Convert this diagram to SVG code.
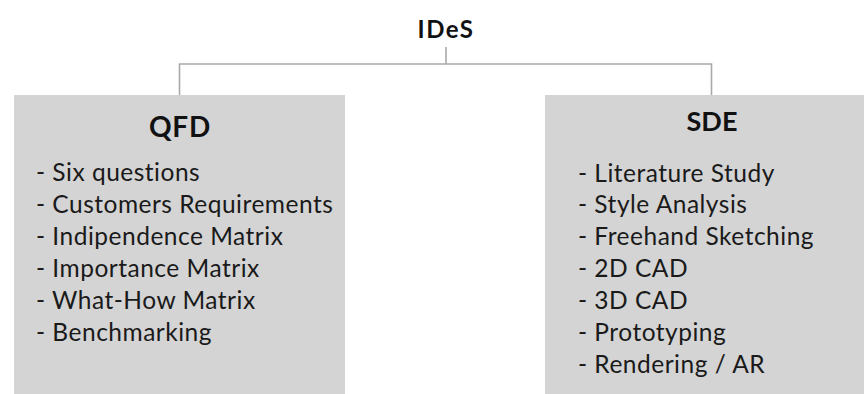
<svg xmlns="http://www.w3.org/2000/svg" width="864" height="394" viewBox="0 0 864 394">
  <style>
    .box { fill: #d4d4d4; }
    .link { fill: none; stroke: #a9a9a9; stroke-width: 1.6; }
    .title { font-family: Lato, "Open Sans", sans-serif; font-weight: bold; fill: #111; text-anchor: middle; }
    .item { font-family: Lato, "Open Sans", sans-serif; font-size: 24.5px; letter-spacing: 0.5px; fill: #1a1a1a; }
  </style>
  <rect width="864" height="394" fill="#ffffff"/>

  <!-- tree connectors -->
  <g id="connectors">
    <path class="link" d="M446 47 V64"/>
    <path class="link" d="M179.5 95 V64 H711.5 V95"/>
  </g>

  <!-- root -->
  <g id="ides">
    <text class="title" x="446" y="38" font-size="24" letter-spacing="1.5">IDeS</text>
  </g>

  <!-- QFD branch -->
  <g id="qfd">
    <rect class="box" x="14" y="95" width="331" height="299"/>
    <text class="title" x="180" y="137" font-size="28" letter-spacing="0.8">QFD</text>
    <text class="item" x="36" y="181">- Six questions</text>
    <text class="item" x="36" y="213">- Customers Requirements</text>
    <text class="item" x="36" y="245">- Indipendence Matrix</text>
    <text class="item" x="36" y="277">- Importance Matrix</text>
    <text class="item" x="36" y="309">- What-How Matrix</text>
    <text class="item" x="36" y="341">- Benchmarking</text>
  </g>

  <!-- SDE branch -->
  <g id="sde">
    <rect class="box" x="545" y="95" width="319" height="299"/>
    <text class="title" x="712" y="131" font-size="27">SDE</text>
    <text class="item" x="578" y="182">- Literature Study</text>
    <text class="item" x="578" y="213">- Style Analysis</text>
    <text class="item" x="578" y="245">- Freehand Sketching</text>
    <text class="item" x="578" y="277">- 2D CAD</text>
    <text class="item" x="578" y="309">- 3D CAD</text>
    <text class="item" x="578" y="341">- Prototyping</text>
    <text class="item" x="578" y="373">- Rendering / AR</text>
  </g>
</svg>
